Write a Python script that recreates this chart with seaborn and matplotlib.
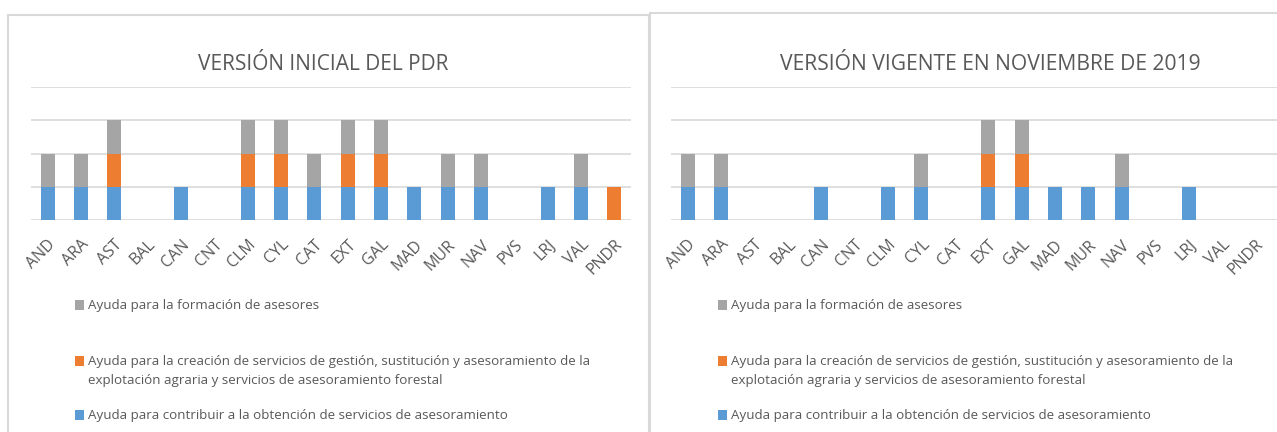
import matplotlib
matplotlib.use("Agg")
import matplotlib.pyplot as plt
import seaborn as sns
import numpy as np
import pandas as pd
from matplotlib.patches import Rectangle
from matplotlib import font_manager

categories = ["AND", "ARA", "AST", "BAL", "CAN", "CNT", "CLM", "CYL", "CAT",
              "EXT", "GAL", "MAD", "MUR", "NAV", "PVS", "LRJ", "VAL", "PNDR"]

# Versión inicial del PDR
ini_blue = [1, 1, 1, 0, 1, 0, 1, 1, 1, 1, 1, 1, 1, 1, 0, 1, 1, 0]
ini_orange = [0, 0, 1, 0, 0, 0, 1, 1, 0, 1, 1, 0, 0, 0, 0, 0, 0, 1]
ini_gray = [1, 1, 1, 0, 0, 0, 1, 1, 1, 1, 1, 0, 1, 1, 0, 0, 1, 0]

# Versión vigente en noviembre de 2019
vig_blue = [1, 1, 0, 0, 1, 0, 1, 1, 0, 1, 1, 1, 1, 1, 0, 1, 0, 0]
vig_orange = [0, 0, 0, 0, 0, 0, 0, 0, 0, 1, 1, 0, 0, 0, 0, 0, 0, 0]
vig_gray = [1, 1, 0, 0, 0, 0, 0, 1, 0, 1, 1, 0, 0, 1, 0, 0, 0, 0]

titles = ["VERSIÓN INICIAL DEL PDR", "VERSIÓN VIGENTE EN NOVIEMBRE DE 2019"]
series_labels = [
    "Ayuda para la formación de asesores",
    "Ayuda para la creación de servicios de gestión, sustitución y asesoramiento de la\nexplotación agraria y servicios de asesoramiento forestal",
    "Ayuda para contribuir a la obtención de servicios de asesoramiento",
]

BLUE = "#5B9BD5"
ORANGE = "#ED7D31"
GRAY = "#A5A5A5"
TXT = "#595959"
GRID = "#D9D9D9"

sns.set_theme(style="white")
avail = {f.name for f in font_manager.fontManager.ttflist}
fam = [f for f in ["Liberation Sans Narrow", "Open Sans", "DejaVu Sans"] if f in avail]
plt.rcParams["font.family"] = fam

W, H = 1277, 432
fig = plt.figure(figsize=(W / 100, H / 100), dpi=100)

def fx(px):
    return px / W

def fy(py):
    return 1 - py / H

# panel frames
fig.patches.append(Rectangle((fx(8), fy(440)), fx(649 - 8), fy(15) - fy(440),
                             transform=fig.transFigure, fill=False,
                             edgecolor=GRID, linewidth=1.5))
fig.patches.append(Rectangle((fx(650), fy(440)), fx(640), fy(13) - fy(440),
                             transform=fig.transFigure, fill=False,
                             edgecolor=GRID, linewidth=1.5))

panels = [
    dict(blue=ini_blue, orange=ini_orange, gray=ini_gray, left=31, right=631,
         xmax=17.5, title_x=323, title_fs=15, leg_x=75),
    dict(blue=vig_blue, orange=vig_orange, gray=vig_gray, left=671, right=1277,
         xmax=17.65, title_x=990, title_fs=15.2, leg_x=718),
]

for i, p in enumerate(panels):
    ax = fig.add_axes([fx(p["left"]), fy(220), fx(p["right"] - p["left"]), fy(87) - fy(220)])
    df = pd.DataFrame({"cat": categories, "blue": p["blue"],
                       "orange": p["orange"], "gray": p["gray"]})
    b = np.array(p["blue"])
    o = np.array(p["orange"])
    sns.barplot(data=df, x="cat", y="blue", color=BLUE, saturation=1,
                width=0.42, linewidth=0, ax=ax)
    sns.barplot(data=df, x="cat", y="orange", color=ORANGE, saturation=1,
                width=0.42, linewidth=0, bottom=b, ax=ax)
    sns.barplot(data=df, x="cat", y="gray", color=GRAY, saturation=1,
                width=0.42, linewidth=0, bottom=b + o, ax=ax)
    ax.set_xlim(-0.5, p["xmax"])
    ax.set_ylim(0, 4)
    ax.set_yticks([0, 1, 2, 3, 4])
    ax.set_yticklabels([])
    ax.yaxis.grid(True, color=GRID, linewidth=1.2)
    ax.set_axisbelow(True)
    ax.tick_params(axis="y", length=0)
    ax.tick_params(axis="x", length=0, pad=12, colors=TXT)
    for lab in ax.get_xticklabels():
        lab.set_rotation(45)
        lab.set_ha("right")
        lab.set_rotation_mode("anchor")
        lab.set_fontsize(11.5)
    ax.set_xlabel("")
    ax.set_ylabel("")
    for s in ax.spines.values():
        s.set_visible(False)

    fig.text(fx(p["title_x"]), fy(65), titles[i], ha="center", va="center",
             fontsize=p["title_fs"], color=TXT)

    # legend
    entries = [(GRAY, series_labels[0], 305),
               (ORANGE, series_labels[1], 361),
               (BLUE, series_labels[2], 415)]
    for col, lab, yc in entries:
        fig.patches.append(Rectangle((fx(p["leg_x"]), fy(yc + 5)), fx(9), fy(yc - 5) - fy(yc + 5),
                                     transform=fig.transFigure, facecolor=col,
                                     edgecolor="none"))
        if "\n" in lab:
            fig.text(fx(p["leg_x"] + 13), fy(yc - 6), lab, ha="left", va="top",
                     fontsize=9.6, color=TXT, linespacing=1.6)
        else:
            fig.text(fx(p["leg_x"] + 13), fy(yc), lab, ha="left", va="center",
                     fontsize=9.6, color=TXT)

fig.savefig("out.png", dpi=100, facecolor="white")
